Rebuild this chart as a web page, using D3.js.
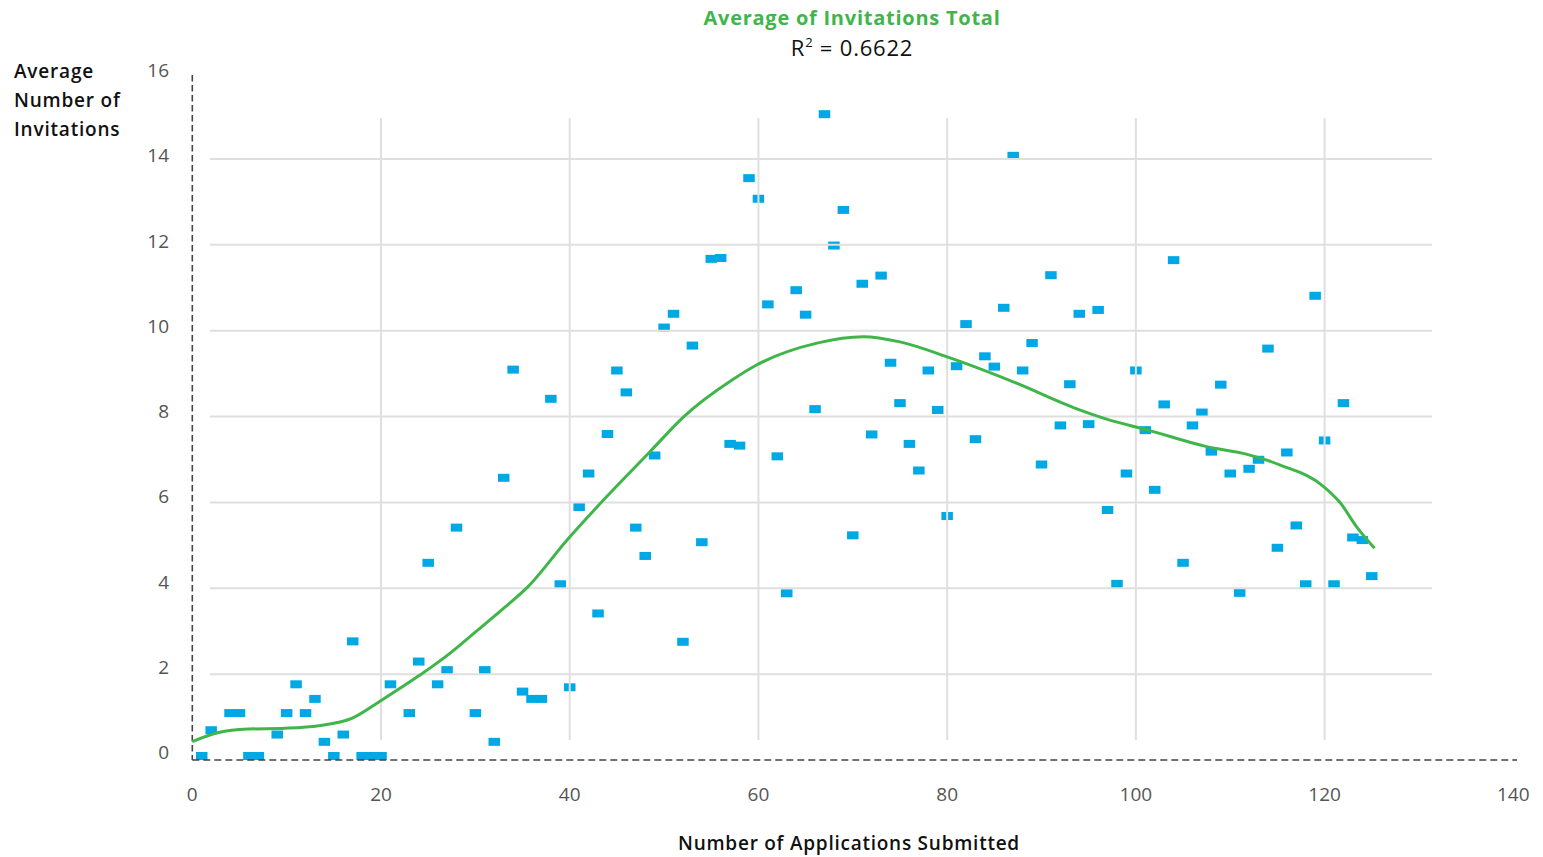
<!DOCTYPE html>
<html>
<head>
<meta charset="utf-8">
<script src="https://cdn.jsdelivr.net/npm/d3@7"></script>
<style>
  body { margin: 0; background: #fff; }
  text { font-family: "Open Sans", Lato, sans-serif; }
</style>
</head>
<body>
<div id="chart"></div>
<script>
// data
var appsX = [1, 2, 4, 5, 6, 7, 9, 10, 11, 12, 13, 14, 15, 16, 17, 18, 19, 20, 21, 23,
  24, 25, 26, 27, 28, 30, 31, 32, 33, 34, 35, 36, 37, 38, 39, 40, 41, 42, 43, 44,
  45, 46, 47, 48, 49, 50, 51, 52, 53, 54, 55, 56, 57, 58, 59, 60, 61, 62, 63, 64,
  65, 66, 67, 68, 69, 70, 71, 72, 73, 74, 75, 76, 77, 78, 79, 80, 81, 82, 83, 84,
  85, 86, 87, 88, 89, 90, 91, 92, 93, 94, 95, 96, 97, 98, 99, 100, 101, 102, 103, 104,
  105, 106, 107, 108, 109, 110, 111, 112, 113, 114, 115, 116, 117, 118, 119, 120, 121, 122, 123, 124, 125];
var avgInvitations = [0, 0.6, 1.0, 1.0, 0, 0, 0.5, 1.0, 1.67, 1.0, 1.33, 0.33, 0, 0.5, 2.67, 0, 0, 0, 1.67, 1.0,
  2.2, 4.5, 1.67, 2.0, 5.32, 1.0, 2.0, 0.33, 6.48, 9.0, 1.5, 1.33, 1.33, 8.32, 4.0, 1.6, 5.8, 6.58, 3.32, 7.5,
  8.98, 8.47, 5.32, 4.66, 7.0, 9.98, 10.3, 2.66, 9.56, 4.98, 11.58, 11.6, 7.27, 7.23, 13.46, 12.98, 10.52, 6.98, 3.79, 10.85,
  10.28, 8.08, 14.95, 11.89, 12.72, 5.14, 11.0, 7.49, 11.19, 9.16, 8.22, 7.27, 6.65, 8.98, 8.06, 5.59, 9.08, 10.06, 7.38, 9.31,
  9.07, 10.44, 13.98, 8.98, 9.62, 6.79, 11.2, 7.7, 8.66, 10.3, 7.73, 10.39, 5.73, 4.01, 6.58, 8.98, 7.59, 6.2, 8.19, 11.55,
  4.5, 7.7, 8.0, 7.09, 8.65, 6.58, 3.8, 6.69, 6.9, 9.49, 4.85, 7.07, 5.37, 4.0, 10.72, 7.35, 4.0, 8.22, 5.09, 5.03, 4.19];

// smoothed trend line
var trendX = [0, 2.8, 5.9, 9.8, 13.4, 16.9, 20.1, 24, 27.5, 29.4, 33.2, 35.5, 39.7, 43.6, 48.5, 52.1, 57.2,
  59.8, 66.2, 71.1, 75, 80, 87, 94.1, 96.9, 101.2, 107.5, 111.8, 115.3, 119.9, 121.7, 123.4, 125.3];
var trendY = [0.43, 0.64, 0.72, 0.74, 0.8, 0.97, 1.4, 1.96, 2.52, 2.87, 3.57, 4.02, 5.12, 6.06, 7.18, 8.0, 8.85,
  9.2, 9.71, 9.86, 9.74, 9.39, 8.81, 8.15, 7.94, 7.69, 7.3, 7.12, 6.87, 6.37, 5.98, 5.43, 4.93];

var xTicks = [0, 20, 40, 60, 80, 100, 120, 140];
var yTicks = [0, 2, 4, 6, 8, 10, 12, 14, 16];
var xGrid = [20, 40, 60, 80, 100, 120];
var yGrid = [2, 4, 6, 8, 10, 12, 14];

var svgWidth = 1543;
var svgHeight = 857;

var svg = d3.select("#chart")
  .append("svg")
  .attr("width", svgWidth)
  .attr("height", svgHeight);

var xScale = d3.scaleLinear().domain([0, 140]).range([192.3, 1513.3]);
var yScale = d3.scaleLinear().domain([0, 16]).range([760, 73.1]);
// the tick labels sit on a slightly tighter spacing than the grid
var yLabelScale = d3.scaleLinear().domain([0, 16]).range([759, 77]);

var blue = "#00a9e6";
var green = "#3fb54a";

// points
svg.append("g").selectAll("rect")
  .data(appsX.map((d, i) => ({ x: d, y: avgInvitations[i] })))
  .enter()
  .append("rect")
  .attr("x", d => xScale(d.x) - 5.75)
  .attr("y", d => yScale(d.y) - 8)
  .attr("width", 11.5)
  .attr("height", 8)
  .attr("fill", blue);

// grid drawn over the marks, as in the reference
svg.append("g").selectAll("line")
  .data(yGrid)
  .enter()
  .append("line")
  .attr("x1", 210).attr("x2", 1432)
  .attr("y1", d => yScale(d)).attr("y2", d => yScale(d))
  .attr("stroke", "#dfdfdf")
  .attr("stroke-width", 2);

svg.append("g").selectAll("line")
  .data(xGrid)
  .enter()
  .append("line")
  .attr("x1", d => xScale(d)).attr("x2", d => xScale(d))
  .attr("y1", 118).attr("y2", 740)
  .attr("stroke", "#dfdfdf")
  .attr("stroke-width", 2);

// dashed axes
svg.append("line")
  .attr("x1", xScale(0)).attr("x2", xScale(0))
  .attr("y1", 75).attr("y2", yScale(0))
  .attr("stroke", "#444")
  .attr("stroke-width", 1.6)
  .attr("stroke-dasharray", "6.5,3.5");

svg.append("line")
  .attr("x1", xScale(0)).attr("x2", 1517)
  .attr("y1", yScale(0)).attr("y2", yScale(0))
  .attr("stroke", "#444")
  .attr("stroke-width", 1.6)
  .attr("stroke-dasharray", "7,4");

// trend line
var line = d3.line()
  .x(d => xScale(d[0]))
  .y(d => yScale(d[1]))
  .curve(d3.curveMonotoneX);

svg.append("path")
  .datum(trendX.map((d, i) => [d, trendY[i]]))
  .attr("d", line)
  .attr("fill", "none")
  .attr("stroke", green)
  .attr("stroke-width", 3);

// tick labels
svg.append("g").selectAll("text")
  .data(xTicks)
  .enter()
  .append("text")
  .attr("x", d => xScale(d))
  .attr("y", 801)
  .attr("text-anchor", "middle")
  .attr("font-size", 19)
  .attr("fill", "#555")
  .text(d => d);

svg.append("g").selectAll("text")
  .data(yTicks)
  .enter()
  .append("text")
  .attr("x", 169)
  .attr("y", d => yLabelScale(d))
  .attr("text-anchor", "end")
  .attr("font-size", 19)
  .attr("fill", "#555")
  .text(d => d);

// titles
svg.append("text")
  .attr("x", 852)
  .attr("y", 25)
  .attr("text-anchor", "middle")
  .attr("font-size", 20)
  .attr("font-weight", 700)
  .attr("letter-spacing", 0.75)
  .attr("fill", green)
  .text("Average of Invitations Total");

var r2 = svg.append("text")
  .attr("x", 852)
  .attr("y", 56)
  .attr("text-anchor", "middle")
  .attr("font-size", 22)
  .attr("letter-spacing", 0.8)
  .attr("fill", "#111");
r2.append("tspan").text("R");
r2.append("tspan").attr("dy", -9).attr("font-size", 13).text("2");
r2.append("tspan").attr("dy", 9).text(" = 0.6622");

var yLabel = ["Average", "Number of", "Invitations"];
svg.append("g").selectAll("text")
  .data(yLabel)
  .enter()
  .append("text")
  .attr("x", 14)
  .attr("y", (d, i) => 78 + i * 29)
  .attr("font-size", 19)
  .attr("font-weight", 600)
  .attr("letter-spacing", 0.8)
  .attr("fill", "#111")
  .text(d => d);

svg.append("text")
  .attr("x", 849)
  .attr("y", 850)
  .attr("text-anchor", "middle")
  .attr("font-size", 19)
  .attr("font-weight", 600)
  .attr("letter-spacing", 0.75)
  .attr("fill", "#111")
  .text("Number of Applications Submitted");
</script>
</body>
</html>
